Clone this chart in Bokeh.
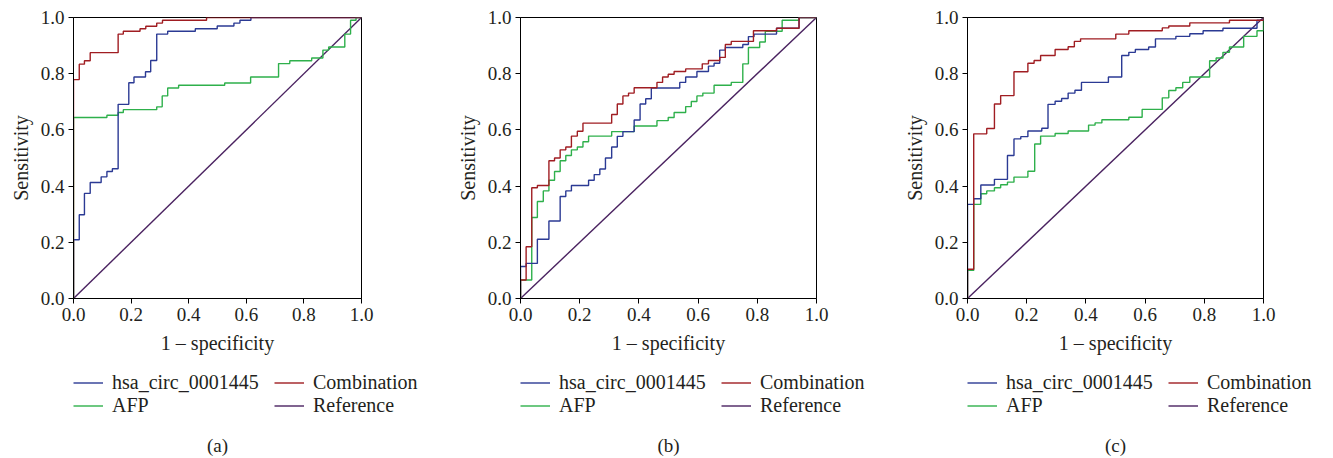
import math
from bokeh.plotting import figure
from bokeh.models import Range1d, FixedTicker, NumeralTickFormatter, Legend, LegendItem
from bokeh.core.properties import value
from bokeh.layouts import row, column
from bokeh.embed import file_html
from bokeh.resources import INLINE

# ---------------- data ----------------
TICKS = [0.0, 0.2, 0.4, 0.6, 0.8, 1.0]
LABELS = ["hsa_circ_0001445", "Combination", "AFP", "Reference"]
PANEL_TAGS = ["(a)", "(b)", "(c)"]
REF_X = [0.0, 1.0]
REF_Y = [0.0, 1.0]

# panel (a)
A_HSA_FPR = [0, 0, 0.020, 0.038, 0.058, 0.096, 0.116, 0.135, 0.155, 0.192, 0.210, 0.250, 0.268, 0.289, 0.327, 0.423, 0.499, 0.557, 0.578, 0.616, 1.0]
A_HSA_TPR = [0, 0.209, 0.298, 0.374, 0.413, 0.433, 0.452, 0.462, 0.691, 0.768, 0.788, 0.807, 0.847, 0.941, 0.951, 0.960, 0.970, 0.980, 0.990, 1.0, 1.0]
A_COMB_FPR = [0, 0, 0.020, 0.038, 0.058, 0.155, 0.173, 0.231, 0.251, 0.289, 0.309, 0.462, 1.0]
A_COMB_TPR = [0, 0.779, 0.834, 0.846, 0.875, 0.941, 0.951, 0.960, 0.969, 0.980, 0.990, 1.0, 1.0]
A_AFP_FPR = [0, 0, 0.116, 0.155, 0.173, 0.289, 0.308, 0.327, 0.365, 0.525, 0.615, 0.712, 0.751, 0.827, 0.866, 0.886, 0.942, 0.962, 0.981, 1.0]
A_AFP_TPR = [0, 0.644, 0.652, 0.662, 0.672, 0.682, 0.721, 0.749, 0.759, 0.767, 0.788, 0.836, 0.846, 0.856, 0.884, 0.895, 0.941, 0.990, 1.0, 1.0]

# panel (b)
B_HSA_FPR = [0, 0, 0.019, 0.057, 0.096, 0.134, 0.153, 0.172, 0.230, 0.249, 0.268, 0.287, 0.308, 0.327, 0.346, 0.384, 0.404, 0.423, 0.442, 0.538, 0.558, 0.596, 0.635, 0.654, 0.673, 0.692, 0.751, 0.770, 0.789, 0.865, 0.941, 1.0]
B_HSA_TPR = [0, 0.114, 0.125, 0.211, 0.276, 0.363, 0.383, 0.402, 0.421, 0.441, 0.461, 0.500, 0.539, 0.577, 0.594, 0.635, 0.692, 0.711, 0.749, 0.769, 0.788, 0.808, 0.827, 0.837, 0.884, 0.893, 0.904, 0.932, 0.941, 0.962, 1.0, 1.0]
B_COMB_FPR = [0, 0, 0.019, 0.038, 0.057, 0.096, 0.115, 0.134, 0.153, 0.172, 0.192, 0.211, 0.308, 0.327, 0.346, 0.365, 0.384, 0.461, 0.480, 0.499, 0.519, 0.558, 0.614, 0.635, 0.673, 0.692, 0.712, 0.787, 0.865, 0.941, 1.0]
B_COMB_TPR = [0, 0.066, 0.184, 0.394, 0.402, 0.490, 0.500, 0.529, 0.539, 0.578, 0.595, 0.624, 0.655, 0.692, 0.721, 0.731, 0.750, 0.769, 0.788, 0.798, 0.808, 0.817, 0.835, 0.847, 0.858, 0.904, 0.915, 0.953, 0.962, 1.0, 1.0]
B_AFP_FPR = [0, 0, 0.038, 0.057, 0.077, 0.096, 0.115, 0.134, 0.153, 0.172, 0.192, 0.211, 0.230, 0.308, 0.384, 0.461, 0.499, 0.519, 0.558, 0.577, 0.596, 0.616, 0.654, 0.712, 0.751, 0.770, 0.808, 0.827, 0.884, 0.941, 1.0]
B_AFP_TPR = [0, 0.066, 0.288, 0.345, 0.383, 0.421, 0.452, 0.490, 0.509, 0.529, 0.539, 0.558, 0.578, 0.594, 0.614, 0.633, 0.644, 0.662, 0.683, 0.701, 0.721, 0.731, 0.759, 0.769, 0.835, 0.893, 0.913, 0.951, 0.990, 1.0, 1.0]

# panel (c)
C_HSA_FPR = [0, 0, 0.021, 0.045, 0.091, 0.135, 0.157, 0.180, 0.204, 0.251, 0.272, 0.296, 0.318, 0.340, 0.363, 0.385, 0.476, 0.521, 0.545, 0.567, 0.612, 0.635, 0.704, 0.751, 0.796, 0.863, 0.978, 1.0]
C_HSA_TPR = [0, 0.335, 0.355, 0.404, 0.424, 0.509, 0.568, 0.576, 0.596, 0.606, 0.691, 0.702, 0.712, 0.731, 0.741, 0.769, 0.788, 0.865, 0.876, 0.886, 0.895, 0.924, 0.933, 0.942, 0.953, 0.962, 0.990, 1.0]
C_COMB_FPR = [0, 0, 0.021, 0.065, 0.091, 0.112, 0.157, 0.204, 0.225, 0.247, 0.296, 0.340, 0.361, 0.382, 0.501, 0.545, 0.658, 0.680, 0.751, 0.885, 1.0]
C_COMB_TPR = [0, 0.104, 0.586, 0.605, 0.692, 0.722, 0.807, 0.837, 0.847, 0.865, 0.886, 0.896, 0.915, 0.924, 0.941, 0.953, 0.963, 0.970, 0.981, 0.990, 1.0]
C_AFP_FPR = [0, 0, 0.021, 0.045, 0.065, 0.091, 0.112, 0.135, 0.157, 0.204, 0.227, 0.247, 0.296, 0.340, 0.409, 0.431, 0.454, 0.545, 0.590, 0.658, 0.680, 0.704, 0.727, 0.751, 0.818, 0.840, 0.863, 0.885, 0.933, 0.978, 1.0]
C_AFP_TPR = [0, 0.100, 0.335, 0.373, 0.383, 0.394, 0.405, 0.414, 0.432, 0.453, 0.550, 0.578, 0.587, 0.596, 0.617, 0.625, 0.636, 0.645, 0.673, 0.714, 0.740, 0.750, 0.769, 0.788, 0.846, 0.856, 0.876, 0.895, 0.933, 0.953, 1.0]

# ---------------- style ----------------
FONT = "Liberation Serif"
TXT = "#231f20"
C_HSA = "#2b3a94"
C_COMB = "#a01d22"
C_AFP = "#2eb04b"
C_REF = "#4a2260"
LW = 1.4
LEFT = 73
TOP = 17
FRAME_H = 281
PLOT_H = 360
STRIP_H = 97
FRAME_WS = [288, 296, 296]
RIGHTS = [86, 78, 60]


def panel(hsa, comb, afp, frame_w, border_right):
    width = LEFT + frame_w + border_right
    p = figure(width=width, height=PLOT_H,
               x_range=Range1d(0, 1), y_range=Range1d(0, 1),
               output_backend="svg", toolbar_location=None,
               min_border_left=LEFT, min_border_right=border_right,
               min_border_top=TOP, min_border_bottom=PLOT_H - TOP - FRAME_H)
    p.title.visible = False
    p.xgrid.visible = False
    p.ygrid.visible = False
    p.outline_line_color = "black"
    p.outline_line_width = 1
    p.outline_line_alpha = 1

    p.line(REF_X, REF_Y, line_color=C_REF, line_width=LW)
    p.step(afp[0], afp[1], mode="after", line_color=C_AFP, line_width=LW)
    p.step(hsa[0], hsa[1], mode="after", line_color=C_HSA, line_width=LW)
    p.step(comb[0], comb[1], mode="after", line_color=C_COMB, line_width=LW)

    for ax in (p.xaxis[0], p.yaxis[0]):
        ax.ticker = FixedTicker(ticks=TICKS)
        ax.formatter = NumeralTickFormatter(format="0.0")
        ax.major_label_text_font = FONT
        ax.major_label_text_font_size = "19px"
        ax.major_label_text_color = TXT
        ax.axis_label_text_font = FONT
        ax.axis_label_text_font_size = "20px"
        ax.axis_label_text_font_style = "normal"
        ax.axis_label_text_color = TXT
        ax.major_tick_in = 0
        ax.major_tick_out = 5
        ax.minor_tick_in = 0
        ax.minor_tick_out = 0
        ax.axis_line_color = "black"
        ax.major_tick_line_color = "black"
        ax.major_label_standoff = 4
    p.xaxis[0].axis_label_standoff = 8
    p.yaxis[0].axis_label_standoff = 6
    p.xaxis[0].axis_label = "1 \u2013 specificity"
    p.yaxis[0].axis_label = "Sensitivity"
    return p, width


pa, wa = panel((A_HSA_FPR, A_HSA_TPR), (A_COMB_FPR, A_COMB_TPR), (A_AFP_FPR, A_AFP_TPR), FRAME_WS[0], RIGHTS[0])
pb, wb = panel((B_HSA_FPR, B_HSA_TPR), (B_COMB_FPR, B_COMB_TPR), (B_AFP_FPR, B_AFP_TPR), FRAME_WS[1], RIGHTS[1])
pc, wc = panel((C_HSA_FPR, C_HSA_TPR), (C_COMB_FPR, C_COMB_TPR), (C_AFP_FPR, C_AFP_TPR), FRAME_WS[2], RIGHTS[2])

# ---------------- legends + panel captions in one strip below ----------------
total_w = wa + wb + wc
lg = figure(width=total_w, height=STRIP_H, x_range=Range1d(0, total_w), y_range=Range1d(0, STRIP_H),
            output_backend="svg", toolbar_location=None,
            x_axis_location=None, y_axis_location=None,
            min_border_left=0, min_border_right=0, min_border_top=0, min_border_bottom=0)
lg.title.visible = False
lg.xgrid.visible = False
lg.ygrid.visible = False
lg.outline_line_color = None
r_hsa = lg.line([math.nan], [math.nan], line_color=C_HSA, line_width=LW)
r_comb = lg.line([math.nan], [math.nan], line_color=C_COMB, line_width=LW)
r_afp = lg.line([math.nan], [math.nan], line_color=C_AFP, line_width=LW)
r_ref = lg.line([math.nan], [math.nan], line_color=C_REF, line_width=LW)

starts = [0, wa, wa + wb]
frame_lefts = [s + LEFT for s in starts]
centers = [fl + fw / 2 for fl, fw in zip(frame_lefts, FRAME_WS)]

for fl in frame_lefts:
    legend = Legend(items=[
        LegendItem(label=LABELS[0], renderers=[r_hsa]),
        LegendItem(label=LABELS[2], renderers=[r_afp]),
        LegendItem(label=LABELS[1], renderers=[r_comb]),
        LegendItem(label=LABELS[3], renderers=[r_ref]),
    ], ncols=2, location=(fl, 40))
    legend.label_text_font = FONT
    legend.label_text_font_size = "20px"
    legend.label_text_color = TXT
    legend.glyph_width = 30
    legend.glyph_height = 23
    legend.label_height = 23
    legend.label_width = 162
    legend.label_standoff = 9
    legend.spacing = 0
    legend.padding = 0
    legend.margin = 0
    legend.border_line_alpha = 0
    legend.background_fill_alpha = 0
    lg.add_layout(legend, "center")

lg.text(x=centers, y=[STRIP_H - 85] * 3, text=PANEL_TAGS, text_align="center", text_baseline="middle",
        text_font=value(FONT), text_font_size="19px", text_color=TXT)

layout = column(row(pa, pb, pc), lg)
open("out.html", "w").write(file_html(layout, INLINE))
